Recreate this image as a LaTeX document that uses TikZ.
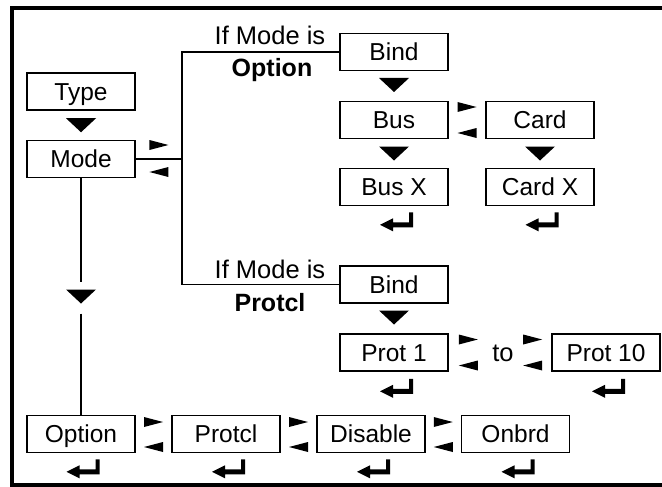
\documentclass[tikz,border=0pt]{standalone}
\usepackage{fontspec}
\setmainfont{Liberation Sans}
\usetikzlibrary{calc}
\tikzset{
  box/.style={draw, line width=1.6pt, minimum width=108pt, minimum height=37pt, inner sep=0pt,
    font=\fontsize{24.5}{28}\selectfont, text height=17.5pt, text depth=0pt},
  conn/.style={line width=1.8pt},
  lbl/.style={font=\fontsize{25.5}{29}\selectfont, inner sep=0pt, anchor=base},
  blbl/.style={font=\fontsize{25}{29}\selectfont\bfseries, inner sep=0pt, anchor=base},
  dtri/.pic={\fill (-15,-7) -- (15,-7) -- (0,7) -- cycle;},
  rtri/.pic={\fill (-9.5,-5) -- (9.5,0) -- (-9.5,5) -- cycle;},
  ltri/.pic={\fill (9.5,-5) -- (-9.5,0) -- (9.5,5) -- cycle;},
  ret/.pic={\fill (16.5,-10) -- (16.5,5) -- (-3.5,5) -- (-3.5,9) -- (-16.5,2.5) -- (-3.5,-4) -- (-3.5,0) -- (12.5,0) -- (12.5,-10) -- cycle;}
}
\begin{document}
\begin{tikzpicture}[x=1pt,y=-1pt]
\useasboundingbox (0,0) rectangle (662,487);
% outer frame (open on the right)
\draw[line width=4pt] (662,8.5) -- (12,8.5) -- (12,485) -- (662,485);

% boxes
\node[box] (type) at (81,91.5) {Type};
\node[box] (mode) at (81,159) {Mode};
\node[box] (bind1) at (394,52) {Bind};
\node[box] (bus) at (394,120) {Bus};
\node[box] (card) at (540,120) {Card};
\node[box] (busx) at (394,187) {Bus X};
\node[box] (cardx) at (540,187) {Card X};
\node[box] (bind2) at (394,284.5) {Bind};
\node[box] (prot1) at (394,352.5) {Prot 1};
\node[box] (prot10) at (606,352.5) {Prot 10};
\node[box] (option) at (81,434) {Option};
\node[box] (protcl) at (226,434) {Protcl};
\node[box] (disable) at (371,434) {Disable};
\node[box] (onbrd) at (515.5,434) {Onbrd};

% texts
\node[lbl] (if1) at (270,45) {If Mode is};
\node[blbl] (opt) at (272,77) {Option};
\node[lbl] (if2) at (270,278) {If Mode is};
\node[blbl] (pro) at (270,311) {Protcl};
\node[font=\fontsize{25.5}{29}\selectfont, inner sep=0pt] (to) at (503,353) {to};

% branch connectors
\coordinate (br) at (182,159);
\draw[conn] (mode.east) -- (br);
\draw[conn] (bind1.west) -| (br);
\draw[conn] (bind2.west) -| (br);

% mode to option with down triangle
\coordinate (mt) at (81,296.5);
\draw[conn] (mode.south) -- ($(mt)+(0,-15)$);
\draw[conn] ($(mt)+(0,17)$) -- (option.north);
\pic at (mt) {dtri};

% down triangles
\pic at ($(type.south)!0.5!(mode.north)$) {dtri};
\pic at ($(bind1.south)!0.5!(bus.north)+(0,-1)$) {dtri};
\pic at ($(bus.south)!0.5!(busx.north)$) {dtri};
\pic at ($(card.south)!0.5!(cardx.north)$) {dtri};
\pic at ($(bind2.south)!0.5!(prot1.north)+(0,-1)$) {dtri};

% paired arrows
\pic at ($(mode.east)!0.5!(br)+(0,-14)$) {rtri};
\pic at ($(mode.east)!0.5!(br)+(0,13)$) {ltri};
\pic at ($(bus.east)!0.5!(card.west)+(0,-13)$) {rtri};
\pic at ($(bus.east)!0.5!(card.west)+(0,13)$) {ltri};
\pic at ($(prot1.east)+(19.5,-13)$) {rtri};
\pic at ($(prot1.east)+(19.5,13)$) {ltri};
\pic at ($(prot10.west)+(-18.5,-13)$) {rtri};
\pic at ($(prot10.west)+(-18.5,13)$) {ltri};
\pic at ($(option.east)!0.5!(protcl.west)+(0,-12)$) {rtri};
\pic at ($(option.east)!0.5!(protcl.west)+(0,13)$) {ltri};
\pic at ($(protcl.east)!0.5!(disable.west)+(0,-12)$) {rtri};
\pic at ($(protcl.east)!0.5!(disable.west)+(0,13)$) {ltri};
\pic at ($(disable.east)!0.5!(onbrd.west)+(0,-12)$) {rtri};
\pic at ($(disable.east)!0.5!(onbrd.west)+(0,13)$) {ltri};

% return symbols
\pic at ($(busx.south)+(2.5,16)$) {ret};
\pic at ($(cardx.south)+(2,16)$) {ret};
\pic at ($(prot1.south)+(2.5,17)$) {ret};
\pic at ($(prot10.south)+(2.5,17)$) {ret};
\pic at ($(option.south)+(2,16)$) {ret};
\pic at ($(protcl.south)+(2.5,16)$) {ret};
\pic at ($(disable.south)+(2.5,16)$) {ret};
\pic at ($(onbrd.south)+(2.5,16)$) {ret};
\end{tikzpicture}
\end{document}
